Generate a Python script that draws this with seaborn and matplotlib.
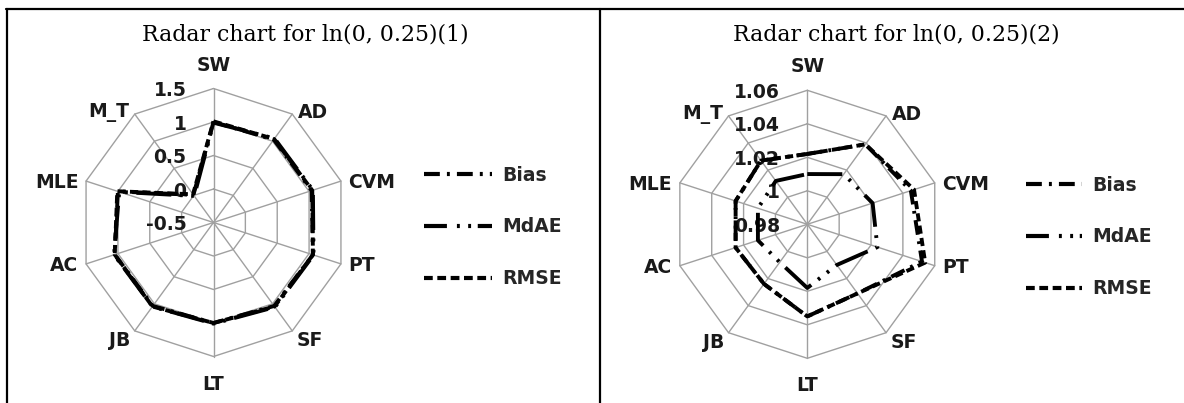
import numpy as np
import pandas as pd
import matplotlib
matplotlib.use("Agg")
import matplotlib.pyplot as plt
from matplotlib.lines import Line2D
import seaborn as sns

# axes of the radar (clockwise from the top)
categories = ["SW", "AD", "CVM", "PT", "SF", "LT", "JB", "AC", "MLE", "M_T"]
series_names = ["Bias", "MdAE", "RMSE"]

# panel 1 : ln(0, 0.25)(1)
bias_1 = [1.00, 1.03, 1.04, 1.06, 1.04, 1.00, 1.04, 1.05, 1.00, 0.01]
mdae_1 = [0.99, 1.05, 1.06, 1.07, 1.06, 1.01, 1.05, 1.06, 0.98, -0.01]
rmse_1 = [1.01, 1.04, 1.05, 1.06, 1.05, 1.00, 1.05, 1.05, 1.01, 0.02]
ticks_1 = [-0.5, 0, 0.5, 1, 1.5]
tick_labels_1 = ["-0.5", "0", "0.5", "1", "1.5"]

# panel 2 : ln(0, 0.25)(2)
bias_2 = [1.022, 1.039, 1.045, 1.052, 1.031, 1.035, 1.024, 1.025, 1.025, 1.027]
mdae_2 = [1.010, 1.017, 1.021, 1.024, 1.010, 1.018, 1.008, 1.011, 1.011, 1.012]
rmse_2 = [1.022, 1.039, 1.047, 1.054, 1.031, 1.035, 1.024, 1.025, 1.025, 1.027]
ticks_2 = [0.98, 1.00, 1.02, 1.04, 1.06]
tick_labels_2 = ["0.98", "1", "1.02", "1.04", "1.06"]

titles = ["Radar chart for ln(0, 0.25)(1)", "Radar chart for ln(0, 0.25)(2)"]

# line styles (in line widths) for the plot and for the legend keys
dash_map = {
    "Bias": (3.8, 1.7, 0.7, 1.7),
    "MdAE": (9, 2.2, 0.7, 2.2, 0.7, 2.2),
    "RMSE": (2.1, 1.1),
}
legend_dashes = {
    "Bias": (3.8, 1.7, 0.7, 1.7),
    "MdAE": (5.5, 2.4, 0.7, 2.0, 0.7, 1.6),
    "RMSE": (2.1, 1.1),
}

sns.set_style("white")
plt.rcParams["font.family"] = ["DejaVu Sans"]

W, H = 1184, 403
fig = plt.figure(figsize=(W / 100, H / 100), dpi=100)

grid_c = "#a0a0a0"
txt_c = "#1a1a1a"
R = 134  # px


def radar(center, values, ticks, tick_labels, title, title_x, leg_pos, leg_len):
    cx, cy = center
    ax = fig.add_axes([(cx - R) / W, (H - cy - R) / H, 2 * R / W, 2 * R / H],
                      projection="polar")
    ax.set_theta_offset(np.pi / 2)
    ax.set_theta_direction(-1)
    n = len(categories)
    angles = np.linspace(0, 2 * np.pi, n, endpoint=False)
    closed = np.append(angles, 2 * np.pi)

    # decagon grid
    for t in ticks[1:]:
        ax.plot(closed, [t] * (n + 1), color=grid_c, lw=1.0, zorder=1, clip_on=False)
    for a in angles:
        ax.plot([a, a], [ticks[0], ticks[-1]], color=grid_c, lw=1.0, zorder=1, clip_on=False)

    rows = []
    for name, vals in zip(series_names, values):
        for a, v in zip(closed, list(vals) + [vals[0]]):
            rows.append((name, a, v))
    df = pd.DataFrame(rows, columns=["series", "angle", "value"])
    sns.lineplot(data=df, x="angle", y="value", style="series", dashes=dash_map,
                 color="black", lw=2.8, sort=False, estimator=None, legend=False,
                 ax=ax, zorder=3)

    ax.set_ylim(ticks[0], ticks[-1])
    ax.grid(False)
    ax.spines["polar"].set_visible(False)
    ax.set_xticks([])
    ax.set_yticks([])
    ax.set_xlabel("")
    ax.set_ylabel("")
    ax.patch.set_alpha(0)

    # category labels
    for a, lab in zip(angles, categories):
        s, c = np.sin(a), np.cos(a)
        if abs(s) < 0.1:
            ha = "center"
            va = "bottom" if c > 0 else "top"
            off = (0, 10) if c > 0 else (0, -13)
        else:
            ha = "left" if s > 0 else "right"
            sg = 1 if s > 0 else -1
            if c < -0.5:
                va, off = "top", (3 * sg, 0)
            elif c > 0.5:
                va, off = "center", (4 * sg, 1)
            else:
                va, off = "center", (5.5 * sg, -1)
        ax.annotate(lab, xy=(a, ticks[-1]), xytext=off, textcoords="offset points",
                    ha=ha, va=va, fontsize=13.5, fontweight="bold", color=txt_c,
                    annotation_clip=False)

    # radial tick labels
    for t, lab in zip(ticks, tick_labels):
        ax.annotate(lab, xy=(0, t), xytext=(-19.5, -1.5), textcoords="offset points",
                    ha="right", va="center", fontsize=13.5, fontweight="bold",
                    color=txt_c, zorder=2, annotation_clip=False)

    handles = [Line2D([], [], color="black", lw=3.0, dashes=legend_dashes[s])
               for s in series_names]
    fig.legend(handles, series_names, loc="center left", bbox_to_anchor=leg_pos,
               frameon=False, borderpad=0, borderaxespad=0, handlelength=leg_len,
               handletextpad=0.55, labelspacing=1.75,
               prop={"weight": "bold", "size": 13.5})

    fig.text(title_x / W, 1 - 34 / H, title, ha="center", va="center",
             family="DejaVu Serif", fontsize=15.8, color="black")


radar((213.5, 222.5), [bias_1, mdae_1, rmse_1], ticks_1, tick_labels_1, titles[0],
      305, (424 / W, 1 - 227 / H), 3.6)
radar((807.3, 224.3), [bias_2, mdae_2, rmse_2], ticks_2, tick_labels_2, titles[1],
      896, (1026 / W, 1 - 237 / H), 3.0)

# table borders
lw_b = 1.6
fig.add_artist(Line2D([6 / W, 1], [1 - 9 / H, 1 - 9 / H], color="black", lw=lw_b))
fig.add_artist(Line2D([7 / W, 7 / W], [0, 1 - 9 / H], color="black", lw=lw_b))
fig.add_artist(Line2D([600 / W, 600 / W], [0, 1 - 9 / H], color="black", lw=lw_b))

fig.savefig("out.png", dpi=100)
